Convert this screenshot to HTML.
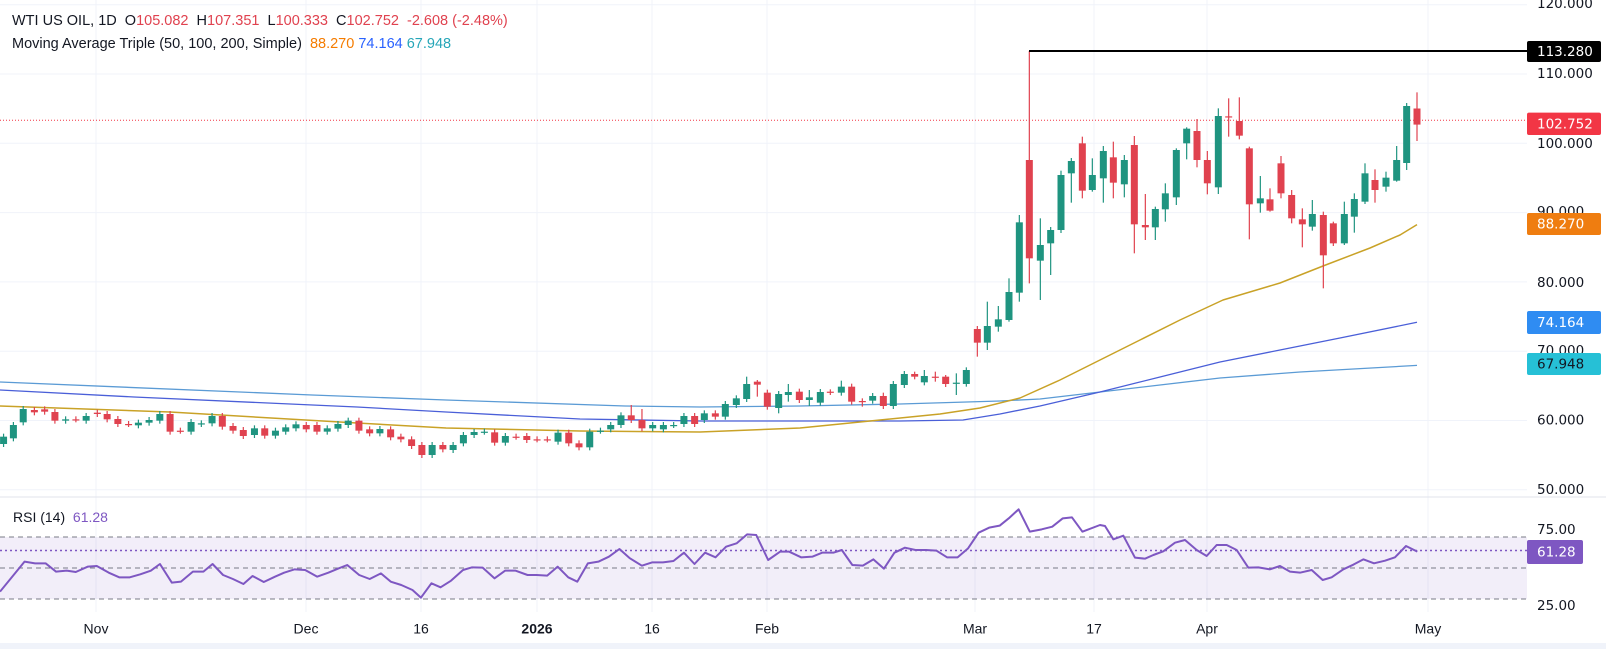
<!DOCTYPE html>
<html><head><meta charset="utf-8">
<style>
html,body{margin:0;padding:0;background:#fff;}
body{width:1606px;height:649px;overflow:hidden;position:relative;font-family:"Liberation Sans",sans-serif;}
svg{position:absolute;left:0;top:0;}
</style></head>
<body>
<svg id="c" width="1606" height="649" xmlns="http://www.w3.org/2000/svg" font-family="Liberation Sans, sans-serif"></svg>
<script>
const NS="http://www.w3.org/2000/svg";
const svg=document.getElementById('c');
function el(t,a,txt){const e=document.createElementNS(NS,t);for(const k in a)e.setAttribute(k,a[k]);if(txt!=null)e.textContent=txt;svg.appendChild(e);return e;}
const PR=1527;
const yp=p=>420.5-(p-60)*6.93;
const yr=r=>568-(r-50)*1.55;
for(let p=50;p<=120;p+=10){el('line',{x1:0,x2:PR,y1:yp(p),y2:yp(p),stroke:'#f0f3fa','stroke-width':1});}
const xl=[[96,'Nov'],[306,'Dec'],[421,'16'],[537,'2026'],[652,'16'],[767,'Feb'],[975,'Mar'],[1094,'17'],[1207,'Apr'],[1428,'May']];
xl.forEach(([x])=>el('line',{x1:x,x2:x,y1:0,y2:612,stroke:'#f0f3fa','stroke-width':1}));
el('line',{x1:0,x2:1606,y1:497,y2:497,stroke:'#e0e3eb','stroke-width':1});
el('rect',{x:0,y:yr(70),width:PR,height:yr(30)-yr(70),fill:'#7e57c2','fill-opacity':0.1});
[70,50,30].forEach(r=>el('line',{x1:0,x2:PR,y1:yr(r),y2:yr(r),stroke:'#787b86','stroke-width':1,'stroke-dasharray':'5 4'}));
el('line',{x1:0,x2:PR,y1:550.5,y2:550.5,stroke:'#7e57c2','stroke-width':1.5,'stroke-dasharray':'2 3'});
el('line',{x1:0,x2:PR,y1:120.3,y2:120.3,stroke:'#f23645','stroke-width':1,'stroke-dasharray':'1 2'});
function pl(pts,col,w){el('polyline',{points:pts.map(p=>p.join(',')).join(' '),fill:'none',stroke:col,'stroke-width':w||1.3,'stroke-linejoin':'round'});}
pl([[0,382],[312,395],[446,400],[625,406],[700,407],[800,406],[900,404],[1000,401],[1040,399],[1100,392],[1160,385],[1220,378],[1300,372],[1417,365.4]],'#5b9bd5');
pl([[0,390],[134,397],[357,407],[446,412],[580,419],[700,421],[800,421],[900,421],[963,420],[1000,414],[1040,406],[1100,392],[1160,377],[1220,362],[1280,350],[1340,338],[1417,322.3]],'#4a5fd8');
pl([[0,406],[170,412],[357,423],[446,428],[580,431],[700,432],[800,428],[880,420],[940,414],[980,408],[1020,398],[1060,380],[1100,360],[1140,340],[1180,320],[1223,300],[1280,283],[1323,266],[1370,248],[1400,235],[1417,224.6]],'#c9a227',1.5);
const UP='#1f9480',DN='#e0424f';
function candle(x,t,b,up,hi,lo){const c=up?UP:DN;if(hi==null)hi=t-3;if(lo==null)lo=b+3;
 el('line',{x1:x,x2:x,y1:hi,y2:lo,stroke:c,'stroke-width':1.2});
 el('rect',{x:x-3.5,y:t,width:7,height:Math.max(1.2,b-t),fill:c});}
const A=[[8,290,312,1],[30,255,295,1],[52,207,247,1],[77,210,217,0],[100,208,215,0],[123,216,242,0],[147,238,242,1],[170,238,238,0],[193,228,242,1],[218,218,222,0],[240,222,238,0],[264,237,252,0],[288,252,252,0],[310,248,256,1],[334,240,248,1],[358,222,242,1],[381,222,275,0],[404,272,272,0],[428,246,275,1],[451,250,252,1],[475,228,250,1],[498,228,260,0],[522,258,272,0],[545,270,288,0],[570,265,285,1],[593,265,287,0],[617,272,287,1],[640,262,275,1],[663,253,265,1],[686,255,268,0],[710,255,275,0],[733,265,275,1],[757,252,266,1],[780,242,255,1],[804,242,272,0],[828,268,280,0],[851,267,280,1],[875,268,292,0],[898,290,298,0],[922,298,318,0],[945,315,345,0],[968,315,345,1],[992,315,328,0],[1015,315,330,1],[1038,285,310,1],[1062,276,285,1],[1085,275,275,1],[1108,277,308,0],[1132,288,308,1],[1156,290,290,0],[1180,288,300,0],[1203,298,298,0],[1226,298,298,0],[1250,278,305,1],[1274,278,310,0],[1297,310,322,0],[1321,275,322,1],[1345,272,272,1],[1368,255,268,1],[1391,226,255,1],[1414,226,240,0,195],[1438,240,265,0,207],[1462,255,265,1],[1486,255,268,1],[1509,255,255,1],[1532,228,252,1],[1556,228,252,0]];
A.forEach(a=>candle(a[0]/2.24,340+a[1]/3,340+a[2]/3,a[3],a[4]!=null?340+a[4]/3:null,null));
const B=[[73,700,720,1],[106,700,710,0],[136,672,710,1],[169,655,675,1],[200,612,657,1,590],[232,605,614,0,600,650],[262,638,680,0],[296,642,684,1,null,700],[325,636,645,1,612,665],[358,635,660,0],[388,652,660,1,630,678],[421,636,668,1],[451,635,635,0,628,645],[484,620,638,1,602],[515,620,665,0],[547,663,663,0,655,680],[578,648,662,1],[610,648,678,0,638],[640,612,678,1],[673,582,615,1],[704,582,590,0,575,598],[733,588,607,1,570],[766,590,590,0,575,605],[797,590,612,0,585],[829,608,608,1,580,645],[859,570,612,1,562,620],[892,447,488,0,null,530],[922,438,488,1,365,510],[955,418,440,1,378,455],[987,336,420,1,295,425],[1018,127,338,1,105,365]];
B.forEach(a=>candle(680+a[0]/3,180+a[1]/3,180+a[2]/3,a[3],a[4]!=null?180+a[4]/3:null,a[5]!=null?180+a[5]/3:null));
const C=[[388,360,655,0,33,730],[421,615,662,1,535,780],[452,570,610,1,null,705],[483,405,570,1,392],[514,363,400,1,null,488],[547,310,452,0,290,475],[577,405,450,1,355,455],[610,333,415,1,318,488],[640,352,428,0,305,475],[673,360,433,1,345,472],[703,315,553,0,288,640],[736,555,562,0,462,600],[766,507,562,1,500,600],[796,460,508,1,430,545],[829,330,472,1,325,495],[860,266,310,1,262,358],[891,273,360,0,237,382],[922,360,430,0,333,463],[955,228,442,1,205,462],[986,229,229,0,175,290],[1018,243,287,0,172,298],[1048,325,493,0,320,598],[1081,475,490,1,408,518],[1110,478,512,0,445,515],[1143,370,460,0,348,475],[1175,465,535,0,450,550],[1207,538,553,0,505,622],[1237,522,560,1,480,572],[1270,525,646,0,515,745],[1300,550,610,0,545,618],[1333,522,610,1,485,615],[1363,477,530,1,460,578],[1395,400,485,1,370,492],[1425,420,450,0,388,488],[1458,413,440,1,395,455],[1490,360,422,1,318,425]];
C.forEach(a=>candle(900+a[0]/3,40+a[1]/3,40+a[2]/3,a[3],a[4]!=null?40+a[4]/3:null,a[5]!=null?40+a[5]/3:null));
candle(1380+80/3,106,163,1,103,170);
candle(1417,108.5,124.6,0,yp(107.351),yp(100.333));
el('line',{x1:1029,x2:PR,y1:51,y2:51,stroke:'#000','stroke-width':2});
const R6=[[0,335],[35,245],[50,250],[65,250],[80,275],[95,272],[108,276],[125,260],[138,258],[155,278],[170,292],[185,292],[200,283],[215,272],[228,252],[245,308],[258,305],[275,275],[290,275],[303,252],[318,285],[332,297],[347,312],[360,288],[376,306],[392,290],[405,278],[420,268],[435,270],[452,290],[468,278],[483,265],[495,255],[512,285],[527,297],[543,280],[557,305],[572,315],[588,330],[600,353],[615,310],[628,322],[643,302],[660,270],[673,262],[688,263],[705,295],[720,272],[735,272],[752,285],[765,285],[780,287],[795,260],[810,292],[823,305],[838,250],[853,245],[868,230],[883,207],[898,235],[915,257],[930,247],[945,247],[960,243],[975,218],[990,252],[1005,218],[1020,232],[1035,200],[1050,190],[1065,163],[1078,165],[1095,240],[1112,215],[1125,215],[1142,232],[1158,230],[1172,218],[1188,218],[1200,210],[1215,255],[1230,257],[1245,238],[1260,266],[1275,218],[1290,203],[1305,210],[1320,210],[1335,212],[1350,232],[1365,232],[1380,205],[1395,158],[1410,143],[1425,137],[1438,115],[1452,88],[1468,155],[1485,148],[1500,140],[1515,115],[1528,112],[1543,155]];
const R3=[[0,165],[15,168],[40,208],[70,197],[105,263],[135,266],[160,255],[190,244],[225,218],[255,210],[290,240],[320,258],[350,225],[380,225],[410,240],[445,293],[475,292],[510,298],[540,288],[570,305],[600,308],[635,300],[668,330],[695,322],[730,298],[760,284],[790,268],[822,280],[855,272],[885,262],[918,228],[952,245]];
const rp=R6.map(p=>[p[0]/1.4255,480+p[1]/3]).concat(R3.map(p=>[1100+p[0]/3,470+p[1]/3]));
pl(rp,'#7e57c2',2);
const AX='DejaVu Sans, Liberation Sans, sans-serif';
function tx(x,y,s,o){return el('text',Object.assign({x:x,y:y,'font-size':13.5,'font-family':AX,fill:'#131722','dominant-baseline':'middle'},o||{}),s);}
[[120,4],[110,74],[100,144],[90,212],[80,283],[70,351],[60,420.5],[50,490]].forEach(([p,y])=>tx(1537,y,p.toFixed(3)));
tx(1537,530,'75.00');tx(1537,606,'25.00');
function box(y1,y2,bg,s,fg,x2){el('rect',{x:1527,y:y1,width:(x2||1601)-1527,height:y2-y1,fill:bg,rx:2});tx(1537,(y1+y2)/2+0.5,s,{fill:fg||'#fff'});}
box(41,62,'#000','113.280');
box(112.6,135,'#f23645','102.752');
box(213,235,'#ef7d10','88.270');
box(311,334,'#2f8cf2','74.164');
box(353,375,'#26c0d6','67.948','#131722');
box(540,564,'#7e57c2','61.28',null,1583);
xl.forEach(([x,s])=>tx(x,630,s,{'text-anchor':'middle','font-family':'Liberation Sans, sans-serif','font-size':14,'font-weight':s==='2026'?'bold':'normal'}));
el('rect',{x:0,y:643,width:1606,height:6,fill:'#f0f3fa'});
const L1=el('text',{x:12,y:21,'font-size':14.5,fill:'#131722','dominant-baseline':'middle'});
function ts(p,s,c){const t=document.createElementNS(NS,'tspan');if(c)t.setAttribute('fill',c);t.textContent=s;p.appendChild(t);}
const R='#e0424f';
L1.style.whiteSpace='pre';
ts(L1,'WTI US OIL, 1D  O');ts(L1,'105.082',R);ts(L1,'  H');ts(L1,'107.351',R);ts(L1,'  L');ts(L1,'100.333',R);ts(L1,'  C');ts(L1,'102.752',R);ts(L1,'  -2.608 (-2.48%)',R);
const L2=el('text',{x:12,y:44,'font-size':14.5,fill:'#131722','dominant-baseline':'middle'});
L2.style.whiteSpace='pre';
ts(L2,'Moving Average Triple (50, 100, 200, Simple)  ');ts(L2,'88.270','#f57c00');ts(L2,' ');ts(L2,'74.164','#2962ff');ts(L2,' ');ts(L2,'67.948','#26a6b8');
const L3=el('text',{x:13,y:518,'font-size':14,fill:'#131722','dominant-baseline':'middle'});
L3.style.whiteSpace='pre';
ts(L3,'RSI (14)  ');ts(L3,'61.28','#7e57c2');
</script>
</body></html>
